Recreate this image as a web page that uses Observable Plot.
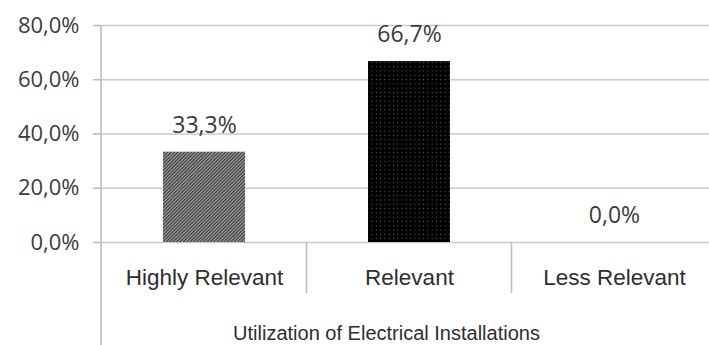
<!DOCTYPE html>
<html>
<head>
<meta charset="utf-8">
<script src="https://cdn.jsdelivr.net/npm/d3@7"></script>
<script src="https://cdn.jsdelivr.net/npm/@observablehq/plot@0.6"></script>
<style>
  html, body { margin: 0; padding: 0; background: #fff; }
</style>
</head>
<body>
<div id="chart"></div>
<script>
// Chart data
const categories = ["Highly Relevant", "Relevant", "Less Relevant"];
const values = [0.333, 0.667, 0.0];
const fills = ["url(#hatch)", "url(#dots)", "url(#dots)"];
const yTicks = [0, 0.2, 0.4, 0.6, 0.8];
const axisTitle = "Utilization of Electrical Installations";

const data = categories.map((c, i) => ({category: c, value: values[i], fill: fills[i]}));
const pct = v => (v * 100).toFixed(1).replace(".", ",") + "%";

const numFont = "'Open Sans', sans-serif";
const labelFont = "'Liberation Sans', Arial, sans-serif";

const plot = Plot.plot({
  width: 709,
  height: 345,
  marginTop: 25,
  marginBottom: 103,
  marginLeft: 101,
  marginRight: 0,
  style: {background: "#fff", overflow: "hidden"},
  x: {domain: categories, range: [101, 716], paddingInner: 0.6, paddingOuter: 0.3, axis: null},
  y: {domain: [0, 0.8], axis: null},
  color: {type: "identity"},
  marks: [
    Plot.gridY(yTicks, {stroke: "#cacaca", strokeOpacity: 1, strokeWidth: 1.6}),
    Plot.axisY(yTicks, {
      tickSize: 8, tickPadding: 14, tickFormat: pct, label: null,
      stroke: "#bdbdbd", strokeWidth: 1.6,
      fill: "#3c3c3c", fontSize: 22, fontFamily: numFont
    }),
    Plot.barY(data, {x: "category", y: "value", fill: "fill"}),
    Plot.text(data, {
      x: "category", y: "value", text: d => pct(d.value),
      dy: -27, lineAnchor: "middle",
      fill: "#3c3c3c", fontSize: 23, fontFamily: numFont
    }),
    Plot.text(categories, {
      x: d => d, frameAnchor: "bottom", dy: 35, lineAnchor: "middle",
      fill: "#2e2e2e", fontSize: 22.5, fontFamily: labelFont
    }),
    Plot.text([axisTitle], {
      frameAnchor: "bottom", dx: -19, dy: 91, lineAnchor: "middle",
      fill: "#2e2e2e", fontSize: 20, fontFamily: labelFont
    })
  ]
});

const svg = d3.select(plot);

// Fill patterns for the bars
const defs = svg.insert("defs", ":first-child");
const hatch = defs.append("pattern")
  .attr("id", "hatch").attr("patternUnits", "userSpaceOnUse")
  .attr("width", 2.4).attr("height", 2.4)
  .attr("patternTransform", "rotate(45)");
hatch.append("rect").attr("width", 2.4).attr("height", 2.4).attr("fill", "#a3a3a3");
hatch.append("rect").attr("width", 1.2).attr("height", 2.4).attr("fill", "#3a3a3a");

const dots = defs.append("pattern")
  .attr("id", "dots").attr("patternUnits", "userSpaceOnUse")
  .attr("width", 4.3).attr("height", 4.3);
dots.append("rect").attr("width", 4.3).attr("height", 4.3).attr("fill", "#000");
dots.append("circle").attr("cx", 2.15).attr("cy", 2.15).attr("r", 0.6).attr("fill", "#6a6a6a");

// Category axis: vertical value-axis line and dividers between categories
const xs = plot.scale("x");
const ys = plot.scale("y");
const y0 = ys.apply(0);
const g = svg.append("g").attr("stroke", "#bdbdbd").attr("stroke-width", 1.6);
g.append("line")
  .attr("x1", xs.range[0]).attr("x2", xs.range[0])
  .attr("y1", ys.apply(0.8)).attr("y2", 345);
categories.slice(0, -1).forEach(c => {
  const xb = xs.apply(c) + xs.bandwidth / 2 + xs.step / 2;
  g.append("line").attr("x1", xb).attr("x2", xb).attr("y1", y0).attr("y2", y0 + 51);
});

document.getElementById("chart").appendChild(plot);
</script>
</body>
</html>
